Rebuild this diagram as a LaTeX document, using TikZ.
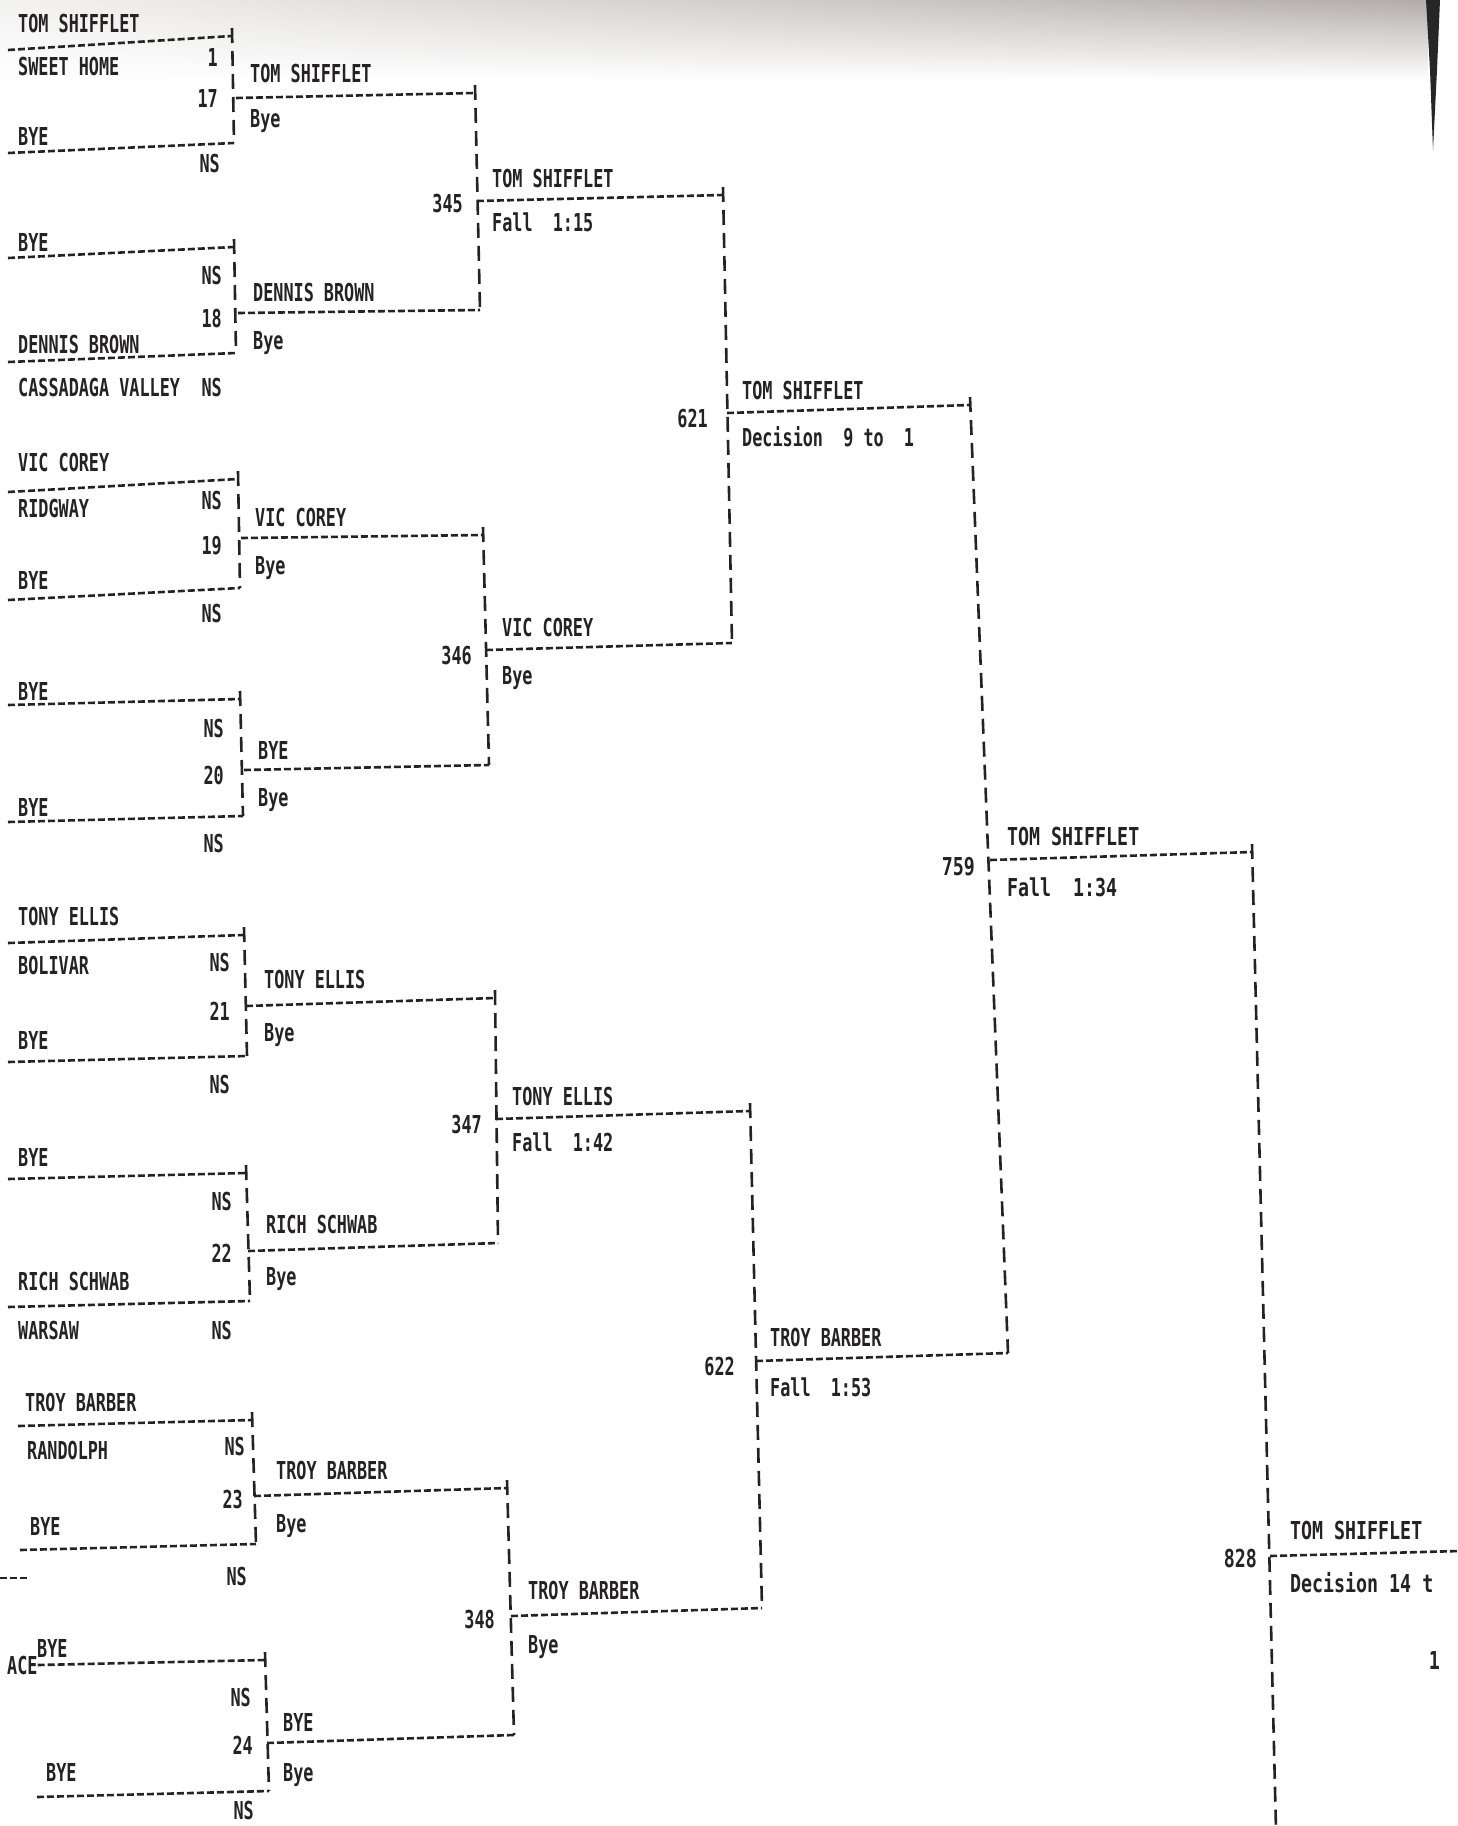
\documentclass[tikz,border=0pt]{standalone}
\usepackage{fontspec}
\newfontfamily\dotfont[FakeStretch=0.68]{DejaVu Sans Mono}
\newfontfamily\dotwide[FakeStretch=0.74]{DejaVu Sans Mono}
\usetikzlibrary{fadings}
\definecolor{ink}{RGB}{36,34,34}
\definecolor{shadow}{RGB}{178,173,169}
\tikzfading[name=paperfade, left color=transparent!85, right color=transparent!0]
\tikzset{
  wrestler/.style={inner sep=0pt,text height=18pt,text depth=0pt,anchor=west,
    text=ink,font=\dotfont\bfseries\fontsize{24.7}{29}\selectfont},
  wrestlerw/.style={wrestler,font=\dotwide\bfseries\fontsize{24.7}{29}\selectfont},
  tally/.style={wrestler,anchor=east},
  tallyw/.style={wrestlerw,anchor=east},
  hdash/.style={color=ink,line width=2.6pt,dash pattern=on 7pt off 3pt},
  vdash/.style={color=ink,line width=2.6pt,dash pattern=on 15pt off 8pt}
}
\begin{document}
\begin{tikzpicture}[x=1pt,y=-1pt]
  \useasboundingbox (0,0) rectangle (1457,1826);
  \fill[white] (0,0) rectangle (1457,1826);
  \begin{scope}[y=1pt]
    \shade[top color=shadow,bottom color=white,path fading=paperfade] (0,-80) rectangle (1428,0);
  \end{scope}
  \fill[black!85] (1426,0) -- (1440,0) -- (1437,70) -- (1433,150) -- (1430,70) -- cycle;

  % bracket corners
  \path
    (8,50) coordinate (t17l) (232,36) coordinate (t17r)
    (8,153) coordinate (b17l) (234,143) coordinate (b17r)
    (236,98) coordinate (w17) (475,93) coordinate (e17)
    (8,258) coordinate (t18l) (234,247) coordinate (t18r)
    (8,362) coordinate (b18l) (236,353) coordinate (b18r)
    (238,313) coordinate (w18) (480,310) coordinate (e18)
    (8,492) coordinate (t19l) (238,479) coordinate (t19r)
    (8,600) coordinate (b19l) (240,588) coordinate (b19r)
    (241,538) coordinate (w19) (483,535) coordinate (e19)
    (8,705) coordinate (t20l) (240,699) coordinate (t20r)
    (8,822) coordinate (b20l) (243,816) coordinate (b20r)
    (244,770) coordinate (w20) (489,765) coordinate (e20)
    (8,943) coordinate (t21l) (244,935) coordinate (t21r)
    (8,1062) coordinate (b21l) (247,1056) coordinate (b21r)
    (246,1006) coordinate (w21) (495,998) coordinate (e21)
    (8,1179) coordinate (t22l) (246,1173) coordinate (t22r)
    (8,1307) coordinate (b22l) (250,1301) coordinate (b22r)
    (248,1251) coordinate (w22) (498,1243) coordinate (e22)
    (18,1426) coordinate (t23l) (252,1420) coordinate (t23r)
    (20,1550) coordinate (b23l) (256,1544) coordinate (b23r)
    (254,1496) coordinate (w23) (507,1488) coordinate (e23)
    (0,1578) coordinate (x23l) (28,1578) coordinate (x23r)
    (265,1660) coordinate (t24r)
    (37,1797) coordinate (b24l) (269,1791) coordinate (b24r)
    (267,1743) coordinate (w24) (514,1735) coordinate (e24)
    (477,201) coordinate (w345) (723,195) coordinate (e345)
    (486,650) coordinate (w346) (732,643) coordinate (e346)
    (496,1119) coordinate (w347) (750,1111) coordinate (e347)
    (511,1616) coordinate (w348) (762,1608) coordinate (e348)
    (727,413) coordinate (w621) (970,405) coordinate (e621)
    (756,1361) coordinate (w622) (1008,1353) coordinate (e622)
    (990,860) coordinate (w759) (1252,852) coordinate (e759)
    (1270,1556) coordinate (w828) (1460,1551) coordinate (e828)
    (1276,1830) coordinate (z828);

  % first round
  \path
    (18,23) node[wrestler] (n17a) {TOM SHIFFLET}
    (18,66) node[wrestler] (c17a) {SWEET HOME}
    (218,57) node[tally] (s17a) {1}
    (218,98) node[tally] (m17) {17}
    (18,136) node[wrestler] (n17b) {BYE}
    (220,163) node[tally] (s17b) {NS}
    (18,242) node[wrestler] (n18a) {BYE}
    (222,275) node[tally] (s18a) {NS}
    (222,318) node[tally] (m18) {18}
    (18,344) node[wrestler] (n18b) {DENNIS BROWN}
    (18,387) node[wrestler] (c18b) {CASSADAGA VALLEY}
    (222,387) node[tally] (s18b) {NS}
    (18,462) node[wrestler] (n19a) {VIC COREY}
    (18,508) node[wrestler] (c19a) {RIDGWAY}
    (222,500) node[tally] (s19a) {NS}
    (222,545) node[tally] (m19) {19}
    (18,580) node[wrestler] (n19b) {BYE}
    (222,613) node[tally] (s19b) {NS}
    (18,691) node[wrestler] (n20a) {BYE}
    (224,728) node[tally] (s20a) {NS}
    (224,775) node[tally] (m20) {20}
    (18,807) node[wrestler] (n20b) {BYE}
    (224,843) node[tally] (s20b) {NS}
    (18,916) node[wrestler] (n21a) {TONY ELLIS}
    (18,965) node[wrestler] (c21a) {BOLIVAR}
    (230,962) node[tally] (s21a) {NS}
    (230,1011) node[tally] (m21) {21}
    (18,1040) node[wrestler] (n21b) {BYE}
    (230,1084) node[tally] (s21b) {NS}
    (18,1157) node[wrestler] (n22a) {BYE}
    (232,1201) node[tally] (s22a) {NS}
    (232,1253) node[tally] (m22) {22}
    (18,1281) node[wrestler] (n22b) {RICH SCHWAB}
    (18,1330) node[wrestler] (c22b) {WARSAW}
    (232,1330) node[tally] (s22b) {NS}
    (25,1402) node[wrestler] (n23a) {TROY BARBER}
    (27,1450) node[wrestler] (c23a) {RANDOLPH}
    (245,1446) node[tally] (s23a) {NS}
    (243,1499) node[tally] (m23) {23}
    (30,1526) node[wrestler] (n23b) {BYE}
    (247,1576) node[tally] (s23b) {NS}
    (37,1648) node[wrestler] (n24a) {BYE}
    (7,1665) node[wrestler] (ace) {ACE}
    (251,1697) node[tally] (s24a) {NS}
    (253,1745) node[tally] (m24) {24}
    (46,1772) node[wrestler] (n24b) {BYE}
    (254,1810) node[tally] (s24b) {NS};

  % second round
  \path
    (250,73) node[wrestler] (r17a) {TOM SHIFFLET}
    (250,118) node[wrestler] (r17b) {Bye}
    (253,292) node[wrestler] (r18a) {DENNIS BROWN}
    (253,340) node[wrestler] (r18b) {Bye}
    (255,517) node[wrestler] (r19a) {VIC COREY}
    (255,565) node[wrestler] (r19b) {Bye}
    (258,750) node[wrestler] (r20a) {BYE}
    (258,797) node[wrestler] (r20b) {Bye}
    (264,979) node[wrestler] (r21a) {TONY ELLIS}
    (264,1032) node[wrestler] (r21b) {Bye}
    (266,1224) node[wrestler] (r22a) {RICH SCHWAB}
    (266,1276) node[wrestler] (r22b) {Bye}
    (276,1470) node[wrestler] (r23a) {TROY BARBER}
    (276,1523) node[wrestler] (r23b) {Bye}
    (283,1722) node[wrestler] (r24a) {BYE}
    (283,1772) node[wrestler] (r24b) {Bye};

  % later rounds
  \path
    (463,203) node[tally] (m345) {345}
    (492,178) node[wrestler] (r345a) {TOM SHIFFLET}
    (492,222) node[wrestler] (r345b) {Fall~~1:15}
    (472,655) node[tally] (m346) {346}
    (502,627) node[wrestler] (r346a) {VIC COREY}
    (502,675) node[wrestler] (r346b) {Bye}
    (482,1124) node[tally] (m347) {347}
    (512,1096) node[wrestler] (r347a) {TONY ELLIS}
    (512,1142) node[wrestler] (r347b) {Fall~~1:42}
    (495,1619) node[tally] (m348) {348}
    (528,1590) node[wrestler] (r348a) {TROY BARBER}
    (528,1644) node[wrestler] (r348b) {Bye}
    (708,418) node[tally] (m621) {621}
    (742,390) node[wrestler] (r621a) {TOM SHIFFLET}
    (742,437) node[wrestler] (r621b) {Decision~~9~to~~1}
    (735,1366) node[tally] (m622) {622}
    (770,1337) node[wrestler] (r622a) {TROY BARBER}
    (770,1387) node[wrestler] (r622b) {Fall~~1:53}
    (975,866) node[tallyw] (m759) {759}
    (1007,836) node[wrestlerw] (r759a) {TOM SHIFFLET}
    (1007,887) node[wrestlerw] (r759b) {Fall~~1:34}
    (1257,1558) node[tallyw] (m828) {828}
    (1290,1530) node[wrestlerw] (r828a) {TOM SHIFFLET}
    (1290,1583) node[wrestlerw] (r828b) {Decision 14 t}
    (1440,1660) node[tallyw] (s828) {1};

  \begin{scope}[hdash]
    \draw (t17l) to (t17r);
    \draw (b17l) to (b17r);
    \draw (t18l) to (t18r);
    \draw (b18l) to (b18r);
    \draw (t19l) to (t19r);
    \draw (b19l) to (b19r);
    \draw (t20l) to (t20r);
    \draw (b20l) to (b20r);
    \draw (t21l) to (t21r);
    \draw (b21l) to (b21r);
    \draw (t22l) to (t22r);
    \draw (b22l) to (b22r);
    \draw (t23l) to (t23r);
    \draw (b23l) to (b23r);
    \draw (x23l) to (x23r);
    \draw (ace.east) to (t24r);
    \draw (b24l) to (b24r);
    \draw (w17) to (e17);
    \draw (w18) to (e18);
    \draw (w19) to (e19);
    \draw (w20) to (e20);
    \draw (w21) to (e21);
    \draw (w22) to (e22);
    \draw (w23) to (e23);
    \draw (w24) to (e24);
    \draw (w345) to (e345);
    \draw (w346) to (e346);
    \draw (w347) to (e347);
    \draw (w348) to (e348);
    \draw (w621) to (e621);
    \draw (w622) to (e622);
    \draw (w759) to (e759);
    \draw (w828) to (e828);
  \end{scope}
  \begin{scope}[vdash]
    \draw (t17r) ++(0,-8) to (b17r);
    \draw (t18r) ++(0,-8) to (b18r);
    \draw (t19r) ++(0,-8) to (b19r);
    \draw (t20r) ++(0,-8) to (b20r);
    \draw (t21r) ++(0,-8) to (b21r);
    \draw (t22r) ++(0,-8) to (b22r);
    \draw (t23r) ++(0,-8) to (b23r);
    \draw (t24r) ++(0,-8) to (b24r);
    \draw (e17) ++(0,-8) to (e18);
    \draw (e19) ++(0,-8) to (e20);
    \draw (e21) ++(0,-8) to (e22);
    \draw (e23) ++(0,-8) to (e24);
    \draw (e345) ++(0,-8) to (e346);
    \draw (e347) ++(0,-8) to (e348);
    \draw (e621) ++(0,-8) to (e622);
    \draw (e759) ++(0,-8) to (z828);
  \end{scope}
\end{tikzpicture}
\end{document}
